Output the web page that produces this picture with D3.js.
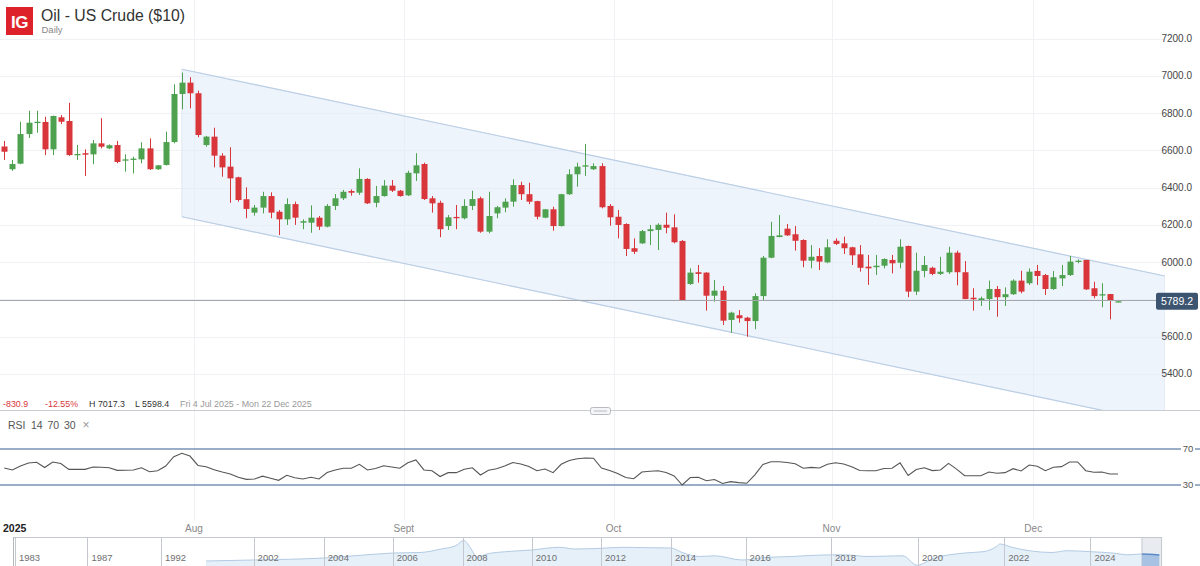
<!DOCTYPE html>
<html><head><meta charset="utf-8">
<script src="https://cdn.jsdelivr.net/npm/d3@7"></script>
<style>
body{margin:0;background:#fff;overflow:hidden}
svg{display:block;font-family:"Liberation Sans",Arial,sans-serif}
</style>
</head><body>
<svg id="chart" width="1200" height="566"></svg>
<script>
// ---------------- DATA ----------------
const opens  = [6620.1,6498,6528,6687,6746,6752,6605,6777,6757,6573,6584,6578,6637,6610,6628,6544,6548,6551,6610,6498,6521,6644,6902,6963,6906,6628,6673,6571,6512,6455,6337,6265,6292,6354,6270,6229,6311,6211,6211,6238,6190,6301,6342,6381,6372,6446,6318,6354,6410,6383,6358,6476,6526,6342,6318,6193,6242,6235,6301,6342,6163,6261,6292,6324,6413,6364,6327,6238,6283,6193,6364,6471,6512,6498,6515,6301,6243,6204,6074,6100,6166,6172,6200,6186,6113,5882,5945,5943,5819,5846,5689,5714,5701,5683,5817,6023,6134,6179,6149,6118,6007,6032,5998,6114,6100,6079,6041,5975,5972,5980,6011,5996,6086,5841,5952,5969,5936,5945,6050,5945,5808,5796,5801,5855,5811,5827,5900,5886,5952,5930,5855,5912,5930,6000,6011,5859,5821,5828,5786];
const highs  = [6650,6548,6753,6812,6812,6780,6786,6789,6855,6628,6605,6655,6772,6632,6650,6578,6565,6643,6664,6521,6700,6954,7017.3,6992,6920,6677,6721,6584,6616,6458,6401,6306,6377,6374,6279,6342,6324,6229,6304,6247,6311,6365,6387,6390,6503,6450,6408,6440,6440,6387,6490,6584,6533,6354,6329,6252,6306,6337,6383,6351,6377,6301,6342,6444,6431,6426,6329,6285,6297,6366,6498,6533,6634,6530,6530,6311,6279,6208,6127,6172,6199,6208,6265,6256,6118,5966,5984,5945,5903,5871,5733,5742,5706,5832,6032,6216,6252,6204,6193,6122,6091,6074,6122,6127,6136,6082,6091,6038,6038,6020,6038,6122,6088,6050,6032,5975,6028,6082,6061,6005,5859,5814,5900,5871,5864,5907,5953,5966,5984,5936,5952,5984,6032,6014,6011,5894,5886,5828,5793];
const lows   = [6548,6489,6525,6666,6694,6574,6574,6741,6570,6548,6462,6525,6610,6606,6530,6485,6476,6530,6494,6494,6518,6637,6820,6825,6670,6619,6508,6458,6318,6324,6235,6249,6261,6235,6145,6199,6199,6176,6157,6172,6186,6279,6333,6356,6360,6311,6294,6351,6376,6351,6354,6435,6333,6265,6133,6172,6176,6229,6279,6157,6154,6235,6267,6297,6333,6311,6229,6235,6168,6190,6360,6404,6462,6494,6288,6195,6127,6032,6043,6097,6091,6064,6154,6100,5792,5877,5889,5739,5787,5662,5620,5674,5598.4,5639,5796,6020,6133,6140,6061,5972,5966,5957,5993,6091,6043,5984,5948,5877,5930,5966,5939,5966,5811,5823,5918,5929,5930,5936,5875,5800,5739,5764,5742,5706,5764,5823,5832,5877,5877,5823,5850,5871,5925,5993,5850,5805,5757,5692,5784];
const closes = [6592,6526,6687,6748,6753,6605,6784,6753,6574,6580,6576,6637,6619,6627,6537,6551,6555,6610,6498,6519,6644,6902,6963,6906,6682,6673,6571,6508,6449,6333,6285,6292,6354,6265,6229,6311,6238,6219,6238,6190,6301,6342,6377,6372,6446,6315,6354,6410,6383,6354,6479,6519,6338,6315,6176,6240,6235,6301,6338,6163,6247,6294,6324,6413,6364,6324,6243,6283,6193,6364,6471,6512,6519,6515,6294,6240,6199,6070,6055,6166,6176,6200,6184,6106,5796,5943,5936,5819,5846,5685,5728,5698,5683,5817,6023,6140,6143,6143,6114,6007,6028,6002,6079,6097,6074,6036,5969,5966,5980,6016,5993,6082,5841,5953,5984,5936,5948,6050,5945,5801,5800,5805,5855,5811,5827,5900,5841,5948,5925,5855,5918,5930,6002,6007,5853,5817,5827,5791,5789.2];
const rsiValues = [48.9,46.7,51.1,54.4,55.2,49.4,55.6,53.9,47.4,47.4,47.4,50,49.7,49.2,46.3,46.4,46.7,49.2,44.8,45.9,51.1,61.4,65.2,62.2,51.7,50.3,46.9,44.4,42.2,38.6,36.3,36.7,39.8,37.4,35.2,40.8,38.1,36.7,38.6,36.7,43.9,46.7,48.6,48.6,53,46.7,48.3,51.3,50,48.6,54.8,57.8,46.7,45.9,39.4,43.7,43.7,47.6,49.1,41.1,46.4,48,51.1,55,53.3,50.6,45.9,47.8,43.7,53,57.2,59.2,60,59.7,48.9,46.1,42.8,38.3,37,44.4,45.3,45.8,43.9,40,30,38.3,38.6,34.8,36.1,31.7,33.7,32.6,31.9,41.3,52.8,55.9,55.9,55,53.6,48.6,49.6,48.9,53,54.7,53.3,50.3,46.1,45.9,45.9,48.3,48.6,54.6,40.6,47.2,49.2,46,46.7,54,47.7,40.3,40.3,40.3,44.4,43,43.7,48.1,45.6,52.2,50.8,45.9,49.7,50.4,55.6,55.6,45.9,44.1,44.4,42.2,42.2];

const priceTicks = [5400,5600,6000,6200,6400,6600,6800,7000,7200];
const gridLevels = [5400,5600,5800,6000,6200,6400,6600,6800,7000,7200];
const monthLabels = ["Aug","Sept","Oct","Nov","Dec"];
const monthStartIndex = [24,50,76,103,128];
const yearLabel = "2025";

const channelIndex = [22,143.8];
const channelUpper = [7035,5925];
const channelLower = [6243,5133];

const lastPrice = 5789.2;
const rsiLevels = [70,30];

const titleText = "Oil - US Crude ($10)";
const subtitleText = "Daily";
const statsItems = [
  {t:"-830.9", c:"#d9363b"}, {t:"-12.55%", c:"#d9363b"},
  {t:"H 7017.3", c:"#333"}, {t:"L 5598.4", c:"#333"},
  {t:"Fri 4 Jul 2025 - Mon 22 Dec 2025", c:"#999"}
];
const rsiHeader = ["RSI","14","70","30","\u00d7"];

const navTickYears = [1983,1987,1992,2002,2004,2006,2008,2010,2012,2014,2016,2018,2020,2022,2024];
const navYears  = [1996.86,2002.0,2004.0,2005.17,2006.0,2006.81,2007.39,2007.81,2008.04,2008.25,2008.42,2008.70,2009.25,2010.0,2010.79,2011.24,2012.0,2012.63,2013.29,2014.0,2014.3,2014.77,2015.18,2015.9,2016.45,2017.08,2017.79,2018.32,2018.85,2019.65,2019.98,2020.35,2021.07,2021.51,2021.83,2021.9,2022.18,2022.58,2023.11,2023.46,2024.0,2024.62,2025.06,2025.39,2025.9];
const navValues = [40.5,45.6,55.8,71,81,84,101.7,119,145,101.7,58.3,76.2,88,96.6,110.3,101.7,105.2,110.3,108.3,106.8,84,63.4,67,45.6,58.3,63.4,71,72,63.4,67,18.6,53.2,81,88,115.4,127.2,110.3,93,84,93,88,81,72,76.2,71];
const navSelection = [2025.42,2025.96];

// ---------------- CHART ----------------
const svg = d3.select("#chart");
const W = 1200, H = 566;
const plotRight = 1165, paneBottom = 410;

const x = d3.scaleLinear().domain([0,138]).range([4.3,1118]);
const y = d3.scaleLinear().domain([5400,7200]).range([373.75,38.5]);
const ry = d3.scaleLinear().domain([30,70]).range([485,449]);
const navX = d3.scaleLinear()
  .domain([1983,1987,1992,2002,2004,2006,2008,2010,2012,2014,2016,2018,2020,2022,2024,2026])
  .range([15,87.4,161,253.6,323.8,392.7,462.5,531.8,601,670.9,745.6,831,918,1004.2,1090.4,1163]);
const navY = d3.scaleLinear().domain([15,145]).range([566,540.5]);

const defs = svg.append("defs");
defs.append("clipPath").attr("id","mainClip").append("rect")
  .attr("x",0).attr("y",0).attr("width",plotRight).attr("height",paneBottom);
defs.append("clipPath").attr("id","selClip").append("rect")
  .attr("x",navX(navSelection[0])).attr("y",537)
  .attr("width",navX(navSelection[1])-navX(navSelection[0])).attr("height",29);

// horizontal grid
svg.append("g").selectAll("line").data(gridLevels).join("line")
  .attr("x1",0).attr("x2",plotRight)
  .attr("y1",d=>Math.round(y(d))+0.5).attr("y2",d=>Math.round(y(d))+0.5)
  .attr("stroke","#eff1f4").attr("stroke-width",1);

// vertical month grid
svg.append("g").selectAll("line").data(monthStartIndex).join("line")
  .attr("x1",d=>Math.round(x(d-0.5))+0.5).attr("x2",d=>Math.round(x(d-0.5))+0.5)
  .attr("y1",0).attr("y2",520)
  .attr("stroke","#eff1f4").attr("stroke-width",1);

// channel
const main = svg.append("g").attr("clip-path","url(#mainClip)");
const chPts = [
  [x(channelIndex[0]),y(channelUpper[0])],[x(channelIndex[1]),y(channelUpper[1])],
  [x(channelIndex[1]),y(channelLower[1])],[x(channelIndex[0]),y(channelLower[0])]
];
main.append("path").attr("d","M"+chPts.map(p=>p.join(",")).join("L")+"Z")
  .attr("fill","#e3ecf8").attr("fill-opacity",0.6).attr("stroke","#e0e8f3").attr("stroke-width",1);
main.append("line").attr("x1",chPts[0][0]).attr("y1",chPts[0][1]).attr("x2",chPts[1][0]).attr("y2",chPts[1][1])
  .attr("stroke","#bccfe6").attr("stroke-width",1.2);
main.append("line").attr("x1",chPts[3][0]).attr("y1",chPts[3][1]).attr("x2",chPts[2][0]).attr("y2",chPts[2][1])
  .attr("stroke","#bccfe6").attr("stroke-width",1.2);

// last price line
svg.append("line").attr("x1",0).attr("x2",1156)
  .attr("y1",Math.round(y(lastPrice))-0.5).attr("y2",Math.round(y(lastPrice))-0.5)
  .attr("stroke","#a3a6ab").attr("stroke-width",1.2);

// candles
const candles = main.append("g");
const data = opens.map((o,i)=>({i,o,h:highs[i],l:lows[i],c:closes[i]}));
const up = "#4ea24f", down = "#d9363b";
candles.selectAll("line").data(data).join("line")
  .attr("x1",d=>Math.round(x(d.i))+0.5).attr("x2",d=>Math.round(x(d.i))+0.5)
  .attr("y1",d=>y(d.h)).attr("y2",d=>y(d.l))
  .attr("stroke",d=>d.c>=d.o?up:down).attr("stroke-width",1);
candles.selectAll("rect").data(data).join("rect")
  .attr("x",d=>Math.round(x(d.i))-2.5).attr("width",6)
  .attr("y",d=>y(Math.max(d.o,d.c)))
  .attr("height",d=>Math.max(1.3,Math.abs(y(d.o)-y(d.c))))
  .attr("fill",d=>d.c>=d.o?up:down);

// y axis labels
svg.append("g").selectAll("text").data(priceTicks).join("text")
  .attr("x",1192).attr("y",d=>y(d)).attr("dy","0.35em")
  .attr("text-anchor","end").attr("font-size",10).attr("fill","#444")
  .text(d=>d3.format(".1f")(d));

// last price box
const lpY = y(lastPrice);
svg.append("rect").attr("x",1156).attr("y",lpY-8.5).attr("width",42).attr("height",17)
  .attr("rx",2).attr("fill","#3d5470");
svg.append("text").attr("x",1177).attr("y",lpY).attr("dy","0.36em").attr("text-anchor","middle")
  .attr("font-size",10.5).attr("fill","#fff").text(d3.format(".1f")(lastPrice));

// title
svg.append("rect").attr("x",6).attr("y",7).attr("width",27).attr("height",28).attr("fill","#dd2329");
svg.append("text").attr("x",19.5).attr("y",27.5).attr("text-anchor","middle")
  .attr("font-size",17).attr("font-weight","bold").attr("fill","#fff").attr("letter-spacing","-0.5").text("IG");
svg.append("text").attr("x",41).attr("y",20.5).attr("font-size",15.8).attr("fill","#333").text(titleText);
svg.append("text").attr("x",41.5).attr("y",33).attr("font-size",9.5).attr("fill","#8a8a8a").text(subtitleText);

// stats line
const statsX = [3,45,89,135,180];
const st = svg.append("g");
statsItems.forEach((s,k)=>{
  st.append("text").attr("x",statsX[k]).attr("y",406.5).attr("font-size",8.9).attr("fill",s.c).text(s.t);
});

// pane separator + handle
svg.append("line").attr("x1",0).attr("x2",W).attr("y1",410.5).attr("y2",410.5).attr("stroke","#c9ccd1");
svg.append("rect").attr("x",590.5).attr("y",407.5).attr("width",20).attr("height",7).attr("rx",2)
  .attr("fill","#f4f5f7").attr("stroke","#b8bbc0");
svg.append("line").attr("x1",594).attr("x2",607).attr("y1",411).attr("y2",411).attr("stroke","#b8bbc0");

// RSI header
const rsiX = [8,31,47.5,64,82.5];
rsiHeader.forEach((t,k)=>{
  svg.append("text").attr("x",rsiX[k]).attr("y",428.5).attr("font-size",k==4?12:10.5)
    .attr("fill",k==4?"#999":"#555").text(t);
});

// RSI levels
svg.append("g").selectAll("line").data(rsiLevels).join("line")
  .attr("x1",0).attr("x2",1200).attr("y1",d=>ry(d)).attr("y2",d=>ry(d))
  .attr("stroke","#7b93b4").attr("stroke-width",1.4);
const lvl = svg.append("g").selectAll("g").data(rsiLevels).join("g");
lvl.append("rect").attr("x",1181).attr("y",d=>ry(d)-6).attr("width",14).attr("height",12).attr("fill","#fff");
lvl.append("text").attr("x",1188).attr("y",d=>ry(d)).attr("dy","0.35em").attr("text-anchor","middle")
  .attr("font-size",9.5).attr("fill","#555").text(d=>d);

// RSI line
svg.append("path").datum(rsiValues)
  .attr("d",d3.line().x((d,i)=>x(i)).y(d=>ry(d)))
  .attr("fill","none").attr("stroke","#555").attr("stroke-width",1.1);

// x axis labels
svg.append("text").attr("x",3).attr("y",531.5).attr("font-size",10.5).attr("font-weight","bold")
  .attr("fill","#222").text(yearLabel);
svg.append("g").selectAll("text").data(monthLabels).join("text")
  .attr("x",(d,k)=>x(monthStartIndex[k]-0.5)).attr("y",531.5).attr("text-anchor","middle")
  .attr("font-size",10).attr("fill","#888").text(d=>d);

// navigator
const nav = svg.append("g");
const navArea = d3.area().x((d,i)=>navX(navYears[i])).y0(566).y1(d=>navY(d)).curve(d3.curveMonotoneX);
const navLine = d3.line().x((d,i)=>navX(navYears[i])).y(d=>navY(d)).curve(d3.curveMonotoneX);
nav.append("path").datum(navValues).attr("d",navArea).attr("fill","#e2edf8").attr("fill-opacity",0.85);
nav.append("path").datum(navValues).attr("d",navLine).attr("fill","none").attr("stroke","#b3cbe4").attr("stroke-width",1);
// selection
nav.append("rect").attr("x",navX(navSelection[0])).attr("y",537.5)
  .attr("width",navX(navSelection[1])-navX(navSelection[0])).attr("height",29)
  .attr("fill","#e8ecf1").attr("stroke","#c4c8ce");
nav.append("path").datum(navValues).attr("d",navArea).attr("clip-path","url(#selClip)")
  .attr("fill","#a7c2e3");
nav.append("path").datum(navValues).attr("d",navLine).attr("clip-path","url(#selClip)")
  .attr("fill","none").attr("stroke","#5b8cc6").attr("stroke-width",1.3);
// frame
nav.append("line").attr("x1",13).attr("x2",navX(navSelection[1])).attr("y1",537.5).attr("y2",537.5).attr("stroke","#c4c8ce");
nav.append("line").attr("x1",13.5).attr("x2",13.5).attr("y1",537).attr("y2",566).attr("stroke","#b5b9bf");
nav.selectAll(".yl").data(navTickYears).join("line")
  .attr("x1",d=>Math.round(navX(d))+0.5).attr("x2",d=>Math.round(navX(d))+0.5)
  .attr("y1",537.5).attr("y2",566).attr("stroke","#c4c8ce");
nav.selectAll("text").data(navTickYears).join("text")
  .attr("x",d=>navX(d)+4).attr("y",561).attr("font-size",9.5).attr("fill","#6f6f6f").text(d=>d);
</script>
</body></html>
